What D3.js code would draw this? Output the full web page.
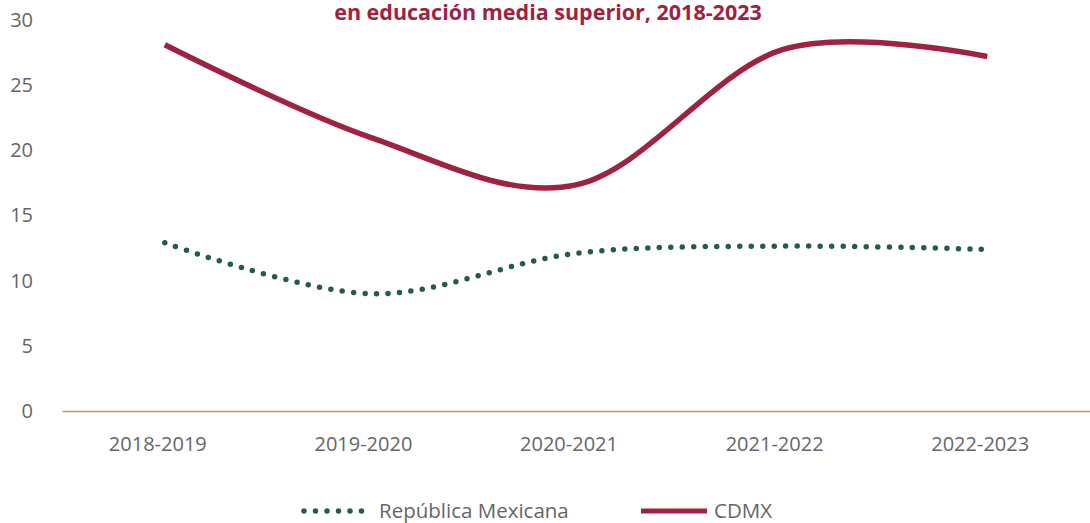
<!DOCTYPE html>
<html>
<head>
<meta charset="utf-8">
<script src="https://cdn.jsdelivr.net/npm/d3@7"></script>
<style>
	body { margin: 0; background: #fff; }
	text { font-family: 'Open Sans', sans-serif; }
</style>
</head>
<body>
<div id="chart"></div>
<script>
// ciclos escolares
var ciclos = ['2018-2019', '2019-2020', '2020-2021', '2021-2022', '2022-2023'];
// valores
var republica = [12.9, 9.0, 12.1, 12.65, 12.4];
var cdmx = [28.1, 21.0, 17.35, 27.7, 27.2];
var yTicks = [0, 5, 10, 15, 20, 25, 30];
var titulo = 'en educación media superior, 2018-2023';

var params = {
	width: 1090,
	height: 523,
	left: 62,
	right: 1090,
	top: 20,
	bottom: 411,
	guinda: '#9f2241',
	verde: '#235b4e',
	gris: '#666666',
	eje: '#c9975f'
};

var svg = d3.select('#chart')
	.append('svg')
		.attr('width', params.width)
		.attr('height', params.height);

// escalas
var x = d3.scaleBand()
	.domain(ciclos)
	.range([params.left, params.right]);
var y = d3.scaleLinear()
	.domain([0, 30])
	.range([params.bottom, params.top]);

// titulo (solo se ve la segunda linea)
svg.append('text')
	.attr('x', 548)
	.attr('y', 20)
	.attr('text-anchor', 'middle')
	.style('font-size', '21.5px')
	.style('font-weight', 'bold')
	.style('fill', params.guinda)
	.text(titulo);

// eje y, solo etiquetas
var yAxis = svg.append('g')
	.attr('transform', 'translate(' + 33 + ',0)')
	.call(d3.axisLeft(y).tickValues(yTicks).tickSize(0).tickPadding(0));
yAxis.select('.domain').remove();
yAxis.selectAll('text')
	.style('font-size', '20px')
	.style('fill', params.gris)
	.style('font-family', "'Open Sans', sans-serif");

// eje x
var xAxis = svg.append('g')
	.attr('transform', 'translate(0,' + params.bottom + ')')
	.call(d3.axisBottom(x).tickSize(0).tickPadding(26));
xAxis.select('.domain')
	.attr('stroke', params.eje)
	.attr('stroke-width', 1.5);
xAxis.selectAll('text')
	.attr('dx', -7)
	.style('font-size', '20px')
	.style('fill', params.gris)
	.style('font-family', "'Open Sans', sans-serif");

// lineas suavizadas
var line = d3.line()
	.x(function(d, i) { return x(ciclos[i]) + x.bandwidth() / 2; })
	.y(function(d) { return y(d); })
	.curve(d3.curveCardinal.tension(0));

svg.append('path')
	.datum(republica)
	.attr('d', line)
	.attr('fill', 'none')
	.attr('stroke', params.verde)
	.attr('stroke-width', 5.5)
	.attr('stroke-linecap', 'round')
	.attr('stroke-dasharray', '0 11.5');

svg.append('path')
	.datum(cdmx)
	.attr('d', line)
	.attr('fill', 'none')
	.attr('stroke', params.guinda)
	.attr('stroke-width', 5.5);

// leyenda
var legend = svg.append('g').attr('transform', 'translate(0,511)');
legend.append('line')
	.attr('x1', 304).attr('x2', 373)
	.attr('stroke', params.verde)
	.attr('stroke-width', 5.5)
	.attr('stroke-linecap', 'round')
	.attr('stroke-dasharray', '0 11.5');
legend.append('text')
	.attr('x', 379).attr('dy', '0.35em')
	.style('font-size', '20.5px')
	.style('fill', params.gris)
	.text('República Mexicana');
legend.append('line')
	.attr('x1', 641).attr('x2', 707)
	.attr('stroke', params.guinda)
	.attr('stroke-width', 5);
legend.append('text')
	.attr('x', 714).attr('dy', '0.35em')
	.style('font-size', '20.5px')
	.style('fill', params.gris)
	.text('CDMX');
</script>
</body>
</html>
